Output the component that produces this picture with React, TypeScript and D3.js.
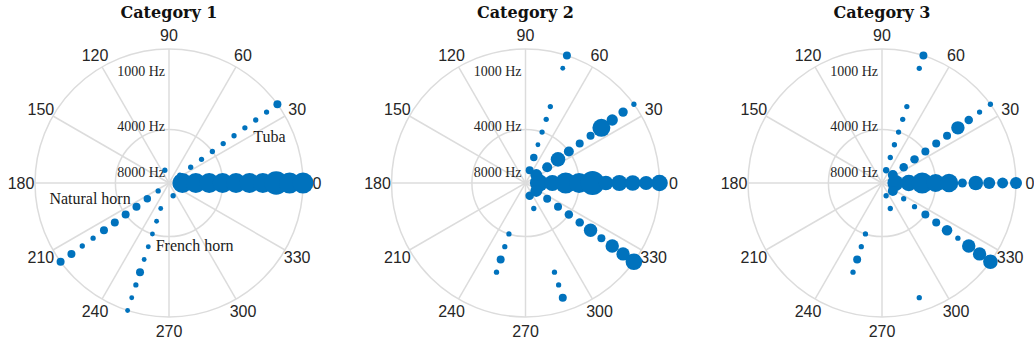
import * as d3 from "d3";

// harmonic number on the radial axis, 1..10
const harmonics = [1, 2, 3, 4, 5, 6, 7, 8, 9, 10];
const categories = ["Category 1", "Category 2", "Category 3"];
const angleTicks = [0, 30, 60, 90, 120, 150, 180, 210, 240, 270, 300, 330];
const rTickLabels = ["1000 Hz", "4000 Hz", "8000 Hz"];
const rTickValues = [8.35, 4.25, 0.8];
const rGrid = [4, 10];

// amplitude per harmonic (null = not played), one spoke per direction
const cat1 = [
  { angle: 0, amp: [100, 100, 100, 100, 100, 100, 100, 140, 110, 110] },
  { angle: 36, amp: [7, 7, 7, 7, 7, 7, 7, 7, 7, 16] },
  { angle: 108, amp: [7, null, null, null, null, null, null, null, null, null] },
  { angle: 216, amp: [7, 14, 16, 16, 16, 16, 7, 7, 16, 16] },
  { angle: 252, amp: [null, 6, 6, 6, 6, 6, 16, 7, 6, 6] },
  { angle: 288, amp: [7, null, null, null, null, null, null, null, null, null] },
];
const cat2 = [
  { angle: 0, amp: [81, 64, 110, 100, 144, 53, 64, 61, 49, 69] },
  { angle: 36, amp: [36, 25, 53, 25, 16, 16, 81, 32, 22, 7] },
  { angle: 72, amp: [16, 14, 6, 7, 7, 7, null, null, 6, 16] },
  { angle: 252, amp: [null, null, null, 7, 7, 16, 7, null, null, null] },
  { angle: 288, amp: [18, 7, null, null, null, null, 7, 7, 16, null] },
  { angle: 324, amp: [36, 16, 16, 18, 18, 45, 16, 45, 45, 69] },
];
const cat3 = [
  { angle: 0, amp: [64, 69, 110, 81, 86, 20, 53, 36, 30, 36] },
  { angle: 36, amp: [25, 18, 18, 16, 16, 16, 45, 18, 7, 7] },
  { angle: 72, amp: [10, 7, 7, 7, 7, 7, null, null, 7, 16] },
  { angle: 252, amp: [null, null, null, 7, 7, 16, 7, null, null, null] },
  { angle: 288, amp: [7, 7, null, null, null, null, null, null, 7, null] },
  { angle: 324, amp: [25, 7, 7, 16, 16, 28, 7, 45, 45, 53] },
];
const panels = [cat1, cat2, cat3];

// instrument notes in the first panel: polar spot + anchor
const notes = [
  { text: "Tuba", angle: 26, r: 7, anchor: "start" },
  { text: "Natural horn", angle: 208.7, r: 3.26, anchor: "end" },
  { text: "French horn", angle: 258.9, r: 5.15, anchor: "start" },
];

const W = 1034;
const H = 345;
const R = 134;
const cy = 183;
const blue = "#0072bd";
const gridColor = "#dcdcdc";
const textColor = "#262626";

const rScale = d3.scaleLinear().domain([0, 10]).range([0, R]);
const sizeScale = d3.scaleSqrt().domain([0, 144]).range([0, 12]);
const panelX = d3.scaleLinear().domain([0, 2]).range([169, 882]);

// polar angle (deg, ccw from east) -> [x, y] offset
const polar = (deg: number, rad: number) =>
  d3.pointRadial(Math.PI / 2 - (deg * Math.PI) / 180, rad);

function Panel({ idx }: { idx: number }) {
  const cx = panelX(idx);
  const spokes = panels[idx];
  const dots = spokes.flatMap((s) =>
    harmonics
      .map((h, i) => ({ angle: s.angle, h, a: s.amp[i] }))
      .filter((d) => d.a != null)
  );

  return (
    <g transform={`translate(${cx},${cy})`}>
      <text
        y={18 - cy}
        textAnchor="middle"
        fontFamily="DejaVu Serif"
        fontWeight="bold"
        fontSize={16}
        fill="#111"
      >
        {categories[idx]}
      </text>
      {angleTicks.map((a) => {
        const [x, y] = polar(a, R);
        return <line key={a} x1={0} y1={0} x2={x} y2={y} stroke={gridColor} strokeWidth={1.5} />;
      })}
      {rGrid.map((v) => (
        <circle key={v} r={rScale(v)} fill="none" stroke={gridColor} strokeWidth={1.5} />
      ))}
      {angleTicks.map((a) => {
        const [x, y] = polar(a, R + 14);
        return (
          <text
            key={a}
            x={x}
            y={y}
            dy="0.36em"
            textAnchor="middle"
            fontFamily="Liberation Sans"
            fontSize={16}
            fill={textColor}
          >
            {a}
          </text>
        );
      })}
      {rTickLabels.map((t, i) => (
        <text
          key={t}
          x={-4}
          y={-rScale(rTickValues[i])}
          dy="0.35em"
          textAnchor="end"
          fontFamily="Liberation Serif"
          fontSize={14}
          fill={textColor}
        >
          {t}
        </text>
      ))}
      {dots.map((d, i) => {
        const [x, y] = polar(d.angle, rScale(d.h));
        return <circle key={i} cx={x} cy={y} r={sizeScale(d.a as number)} fill={blue} />;
      })}
      {idx === 0 &&
        notes.map((n) => {
          const [x, y] = polar(n.angle, rScale(n.r));
          return (
            <text
              key={n.text}
              x={x}
              y={y}
              textAnchor={n.anchor}
              fontFamily="Liberation Serif"
              fontSize={16}
              fill="#1a1a1a"
            >
              {n.text}
            </text>
          );
        })}
    </g>
  );
}

export default function App() {
  return (
    <svg
      width={W}
      height={H}
      style={{ position: "absolute", left: 0, top: 0, background: "#fff" }}
    >
      {categories.map((c, i) => (
        <Panel key={c} idx={i} />
      ))}
    </svg>
  );
}
